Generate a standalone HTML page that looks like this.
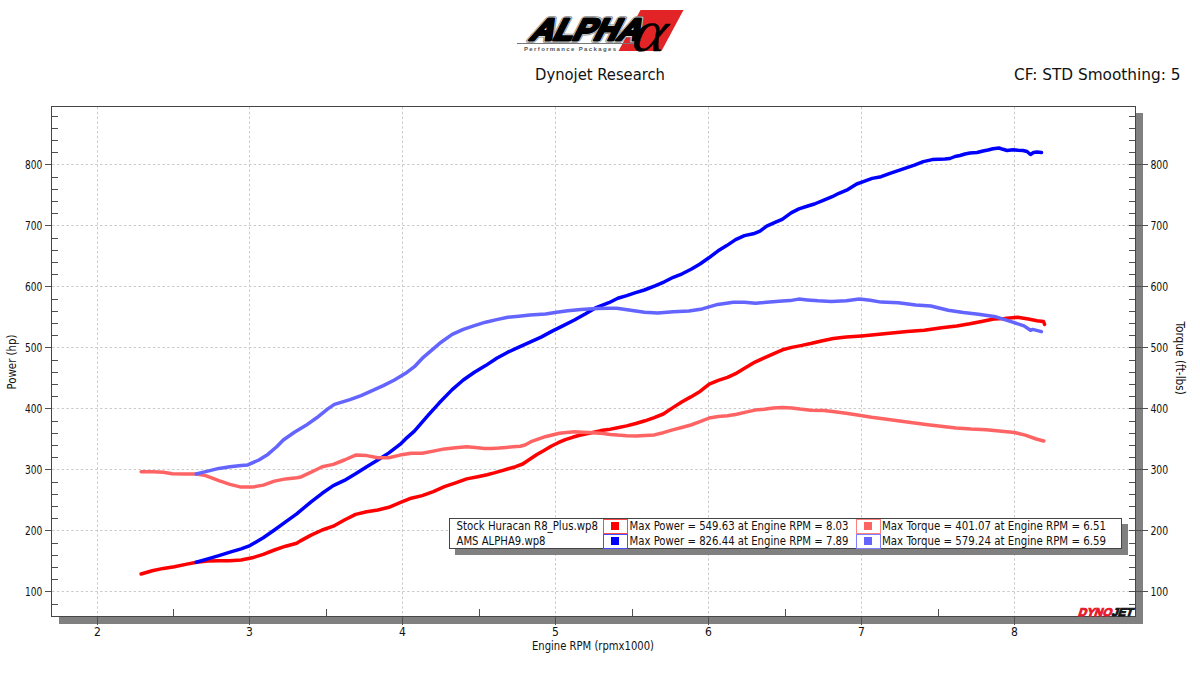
<!DOCTYPE html><html><head><meta charset="utf-8"><style>html,body{margin:0;padding:0;background:#fff;width:1200px;height:675px;overflow:hidden}svg{display:block}</style></head><body>
<svg width="1200" height="675" viewBox="0 0 1200 675">
<rect width="1200" height="675" fill="#fff"/>
<g id="logo">
<polygon points="640.5,10 683.5,10 661.5,51 618.5,51" fill="#e32427"/>
<line x1="517" y1="43.5" x2="640" y2="43.5" stroke="#777" stroke-width="1"/>
<text x="0" y="0" transform="translate(528.5,39.6) skewX(-27)" font-family="Liberation Sans,sans-serif" font-weight="bold" font-size="30.5" textLength="110" lengthAdjust="spacingAndGlyphs" fill="#000" stroke="#8c8c8c" stroke-width="5.6" stroke-linejoin="round">ALPHA</text>
<text x="0" y="0" transform="translate(528.5,39.6) skewX(-27)" font-family="Liberation Sans,sans-serif" font-weight="bold" font-size="30.5" textLength="110" lengthAdjust="spacingAndGlyphs" fill="#000" stroke="#e8e8e8" stroke-width="4" stroke-linejoin="round">ALPHA</text>
<text x="0" y="0" transform="translate(528.5,39.6) skewX(-27)" font-family="Liberation Sans,sans-serif" font-weight="bold" font-size="30.5" textLength="110" lengthAdjust="spacingAndGlyphs" fill="#000" stroke="#000" stroke-width="2.9" stroke-linejoin="round">ALPHA</text>
<text x="524" y="51" font-family="Liberation Sans,sans-serif" font-weight="bold" font-size="6" fill="#555" textLength="92" lengthAdjust="spacing">Performance Packages</text>
<text x="0" y="0" transform="translate(630.8,51) scale(1.06,0.98) skewX(-10)" font-family="Liberation Serif,serif" font-style="italic" font-size="60" fill="#000" stroke="#000" stroke-width="0.3">&#945;</text>
</g>
<text x="535" y="79.5" font-family="'DejaVu Sans Condensed','Liberation Sans',sans-serif" font-size="16" fill="#111" textLength="130" lengthAdjust="spacingAndGlyphs">Dynojet Research</text>
<text x="1014" y="80" font-family="'DejaVu Sans Condensed','Liberation Sans',sans-serif" font-size="16" fill="#111" textLength="166.5" lengthAdjust="spacingAndGlyphs">CF: STD Smoothing: 5</text>
<rect x="1136" y="113" width="7" height="511" fill="#808080"/>
<rect x="59" y="617" width="1084" height="7" fill="#808080"/>
<g stroke="#cbcbcb" stroke-width="1" stroke-dasharray="2.5,2.3" fill="none">
<line x1="97.5" y1="107" x2="97.5" y2="616"/>
<line x1="249.5" y1="107" x2="249.5" y2="616"/>
<line x1="402.5" y1="107" x2="402.5" y2="616"/>
<line x1="555.5" y1="107" x2="555.5" y2="616"/>
<line x1="708.5" y1="107" x2="708.5" y2="616"/>
<line x1="861.5" y1="107" x2="861.5" y2="616"/>
<line x1="1014.5" y1="107" x2="1014.5" y2="616"/>
<line x1="52" y1="591.5" x2="1135" y2="591.5"/>
<line x1="52" y1="530.5" x2="1135" y2="530.5"/>
<line x1="52" y1="469.5" x2="1135" y2="469.5"/>
<line x1="52" y1="408.5" x2="1135" y2="408.5"/>
<line x1="52" y1="347.5" x2="1135" y2="347.5"/>
<line x1="52" y1="286.5" x2="1135" y2="286.5"/>
<line x1="52" y1="225.5" x2="1135" y2="225.5"/>
<line x1="52" y1="164.5" x2="1135" y2="164.5"/>
</g>
<g stroke="#505050" stroke-width="1" shape-rendering="crispEdges">
<line x1="52" y1="604.5" x2="58" y2="604.5"/>
<line x1="1129" y1="604.5" x2="1135" y2="604.5"/>
<line x1="45" y1="591.5" x2="51" y2="591.5"/>
<line x1="1129" y1="591.5" x2="1148" y2="591.5"/>
<line x1="52" y1="579.5" x2="58" y2="579.5"/>
<line x1="1129" y1="579.5" x2="1135" y2="579.5"/>
<line x1="52" y1="567.5" x2="58" y2="567.5"/>
<line x1="1129" y1="567.5" x2="1135" y2="567.5"/>
<line x1="52" y1="555.5" x2="58" y2="555.5"/>
<line x1="1129" y1="555.5" x2="1135" y2="555.5"/>
<line x1="52" y1="543.5" x2="58" y2="543.5"/>
<line x1="1129" y1="543.5" x2="1135" y2="543.5"/>
<line x1="45" y1="530.5" x2="51" y2="530.5"/>
<line x1="1129" y1="530.5" x2="1148" y2="530.5"/>
<line x1="52" y1="518.5" x2="58" y2="518.5"/>
<line x1="1129" y1="518.5" x2="1135" y2="518.5"/>
<line x1="52" y1="506.5" x2="58" y2="506.5"/>
<line x1="1129" y1="506.5" x2="1135" y2="506.5"/>
<line x1="52" y1="494.5" x2="58" y2="494.5"/>
<line x1="1129" y1="494.5" x2="1135" y2="494.5"/>
<line x1="52" y1="482.5" x2="58" y2="482.5"/>
<line x1="1129" y1="482.5" x2="1135" y2="482.5"/>
<line x1="45" y1="469.5" x2="51" y2="469.5"/>
<line x1="1129" y1="469.5" x2="1148" y2="469.5"/>
<line x1="52" y1="457.5" x2="58" y2="457.5"/>
<line x1="1129" y1="457.5" x2="1135" y2="457.5"/>
<line x1="52" y1="445.5" x2="58" y2="445.5"/>
<line x1="1129" y1="445.5" x2="1135" y2="445.5"/>
<line x1="52" y1="433.5" x2="58" y2="433.5"/>
<line x1="1129" y1="433.5" x2="1135" y2="433.5"/>
<line x1="52" y1="421.5" x2="58" y2="421.5"/>
<line x1="1129" y1="421.5" x2="1135" y2="421.5"/>
<line x1="45" y1="408.5" x2="51" y2="408.5"/>
<line x1="1129" y1="408.5" x2="1148" y2="408.5"/>
<line x1="52" y1="396.5" x2="58" y2="396.5"/>
<line x1="1129" y1="396.5" x2="1135" y2="396.5"/>
<line x1="52" y1="384.5" x2="58" y2="384.5"/>
<line x1="1129" y1="384.5" x2="1135" y2="384.5"/>
<line x1="52" y1="372.5" x2="58" y2="372.5"/>
<line x1="1129" y1="372.5" x2="1135" y2="372.5"/>
<line x1="52" y1="360.5" x2="58" y2="360.5"/>
<line x1="1129" y1="360.5" x2="1135" y2="360.5"/>
<line x1="45" y1="347.5" x2="51" y2="347.5"/>
<line x1="1129" y1="347.5" x2="1148" y2="347.5"/>
<line x1="52" y1="335.5" x2="58" y2="335.5"/>
<line x1="1129" y1="335.5" x2="1135" y2="335.5"/>
<line x1="52" y1="323.5" x2="58" y2="323.5"/>
<line x1="1129" y1="323.5" x2="1135" y2="323.5"/>
<line x1="52" y1="311.5" x2="58" y2="311.5"/>
<line x1="1129" y1="311.5" x2="1135" y2="311.5"/>
<line x1="52" y1="299.5" x2="58" y2="299.5"/>
<line x1="1129" y1="299.5" x2="1135" y2="299.5"/>
<line x1="45" y1="286.5" x2="51" y2="286.5"/>
<line x1="1129" y1="286.5" x2="1148" y2="286.5"/>
<line x1="52" y1="274.5" x2="58" y2="274.5"/>
<line x1="1129" y1="274.5" x2="1135" y2="274.5"/>
<line x1="52" y1="262.5" x2="58" y2="262.5"/>
<line x1="1129" y1="262.5" x2="1135" y2="262.5"/>
<line x1="52" y1="250.5" x2="58" y2="250.5"/>
<line x1="1129" y1="250.5" x2="1135" y2="250.5"/>
<line x1="52" y1="238.5" x2="58" y2="238.5"/>
<line x1="1129" y1="238.5" x2="1135" y2="238.5"/>
<line x1="45" y1="225.5" x2="51" y2="225.5"/>
<line x1="1129" y1="225.5" x2="1148" y2="225.5"/>
<line x1="52" y1="213.5" x2="58" y2="213.5"/>
<line x1="1129" y1="213.5" x2="1135" y2="213.5"/>
<line x1="52" y1="201.5" x2="58" y2="201.5"/>
<line x1="1129" y1="201.5" x2="1135" y2="201.5"/>
<line x1="52" y1="189.5" x2="58" y2="189.5"/>
<line x1="1129" y1="189.5" x2="1135" y2="189.5"/>
<line x1="52" y1="177.5" x2="58" y2="177.5"/>
<line x1="1129" y1="177.5" x2="1135" y2="177.5"/>
<line x1="45" y1="164.5" x2="51" y2="164.5"/>
<line x1="1129" y1="164.5" x2="1148" y2="164.5"/>
<line x1="52" y1="152.5" x2="58" y2="152.5"/>
<line x1="1129" y1="152.5" x2="1135" y2="152.5"/>
<line x1="52" y1="140.5" x2="58" y2="140.5"/>
<line x1="1129" y1="140.5" x2="1135" y2="140.5"/>
<line x1="52" y1="128.5" x2="58" y2="128.5"/>
<line x1="1129" y1="128.5" x2="1135" y2="128.5"/>
<line x1="52" y1="116.5" x2="58" y2="116.5"/>
<line x1="1129" y1="116.5" x2="1135" y2="116.5"/>
<line x1="97.5" y1="616" x2="97.5" y2="625"/>
<line x1="249.5" y1="616" x2="249.5" y2="625"/>
<line x1="402.5" y1="616" x2="402.5" y2="625"/>
<line x1="555.5" y1="616" x2="555.5" y2="625"/>
<line x1="708.5" y1="616" x2="708.5" y2="625"/>
<line x1="861.5" y1="616" x2="861.5" y2="625"/>
<line x1="1014.5" y1="616" x2="1014.5" y2="625"/>
<line x1="173.5" y1="609" x2="173.5" y2="616"/>
<line x1="326.5" y1="609" x2="326.5" y2="616"/>
<line x1="479.5" y1="609" x2="479.5" y2="616"/>
<line x1="632.5" y1="609" x2="632.5" y2="616"/>
<line x1="785.5" y1="609" x2="785.5" y2="616"/>
<line x1="938.5" y1="609" x2="938.5" y2="616"/>
<line x1="1090.5" y1="609" x2="1090.5" y2="616"/>
</g>
<rect x="51.5" y="106.5" width="1084" height="510" fill="none" stroke="#454545" stroke-width="1" shape-rendering="crispEdges"/>
<g fill="none" stroke-width="3.5" stroke-linejoin="round" stroke-linecap="round">
<polyline points="141.1,574.0 152.2,570.7 163.3,568.4 174.4,566.7 185.6,564.4 196.7,562.2 207.8,561.1 218.9,560.7 230.0,560.7 241.1,560.0 252.2,557.8 263.3,554.4 274.4,550.0 285.6,546.2 296.7,543.3 300.0,541.1 311.1,535.1 322.2,530.0 333.3,526.2 344.4,520.0 355.6,514.4 366.7,511.8 377.8,510.0 388.9,507.3 400.0,502.7 411.1,498.2 422.2,495.6 433.3,491.6 444.4,486.7 455.6,482.9 466.7,478.9 477.8,476.7 487.1,474.7 494.2,472.9 501.3,470.9 508.4,468.8 515.6,466.7 522.7,464.0 529.8,459.3 536.9,454.5 544.0,450.4 551.1,446.2 558.2,442.7 565.3,439.7 572.5,437.3 579.6,435.3 586.7,433.8 593.8,432.2 600.9,430.6 608.3,429.6 617.5,427.7 626.7,425.9 635.8,423.5 645.0,420.8 654.2,417.6 663.3,414.0 672.5,407.9 681.7,402.0 690.8,396.9 700.0,391.4 709.2,384.1 718.3,380.4 727.5,377.3 736.7,373.1 745.8,367.6 755.0,362.1 764.2,357.9 773.3,353.8 782.5,349.8 791.7,347.4 800.8,345.6 811.7,343.3 822.5,340.7 833.3,338.5 846.3,337.0 861.5,335.9 876.7,334.6 891.8,333.1 907.0,331.6 924.3,330.3 941.7,327.7 956.8,325.9 969.8,323.8 982.8,321.2 993.7,319.0 1004.5,318.4 1017.5,317.3 1028.3,319.0 1037.0,320.7 1043.5,321.6 1044.6,324.4" stroke="#ff0000"/>
<polyline points="196.2,562.2 207.8,558.9 218.9,555.6 230.0,552.2 241.1,548.9 250.0,545.6 263.3,537.8 274.4,530.0 285.6,521.8 296.7,513.8 300.0,511.1 311.1,501.8 322.2,493.3 333.3,485.6 344.4,480.4 355.6,473.8 366.7,466.7 377.8,460.0 388.9,452.9 400.0,444.4 405.6,438.9 414.4,431.1 427.8,415.6 438.9,403.3 452.2,389.6 463.3,380.0 474.4,372.2 485.6,365.6 496.7,358.2 507.8,352.2 518.9,347.1 530.0,342.2 541.1,337.1 552.2,331.1 563.3,325.6 574.4,320.0 585.6,313.8 596.7,307.3 608.9,302.7 617.8,298.2 626.7,295.6 635.6,292.7 644.4,290.0 655.6,285.6 664.4,281.8 673.3,277.3 682.2,273.8 691.1,269.3 700.0,264.0 708.9,257.8 717.8,251.1 726.7,245.6 735.6,239.6 744.4,235.6 753.3,233.8 760.0,231.1 766.7,226.2 775.6,222.2 782.2,219.3 791.1,212.9 798.9,208.9 807.8,206.0 814.4,204.0 823.3,200.4 832.2,196.7 838.9,193.3 847.8,189.6 856.7,184.0 863.3,181.6 872.2,178.4 881.1,176.7 890.0,173.3 901.1,169.6 914.4,165.1 923.3,161.6 932.2,159.6 945.0,159.0 950.0,158.5 955.0,156.5 960.0,155.5 965.0,154.0 970.0,153.0 977.0,152.5 983.0,151.0 988.0,150.0 993.0,148.7 999.0,148.0 1003.0,149.3 1007.0,150.5 1013.0,149.8 1018.0,150.3 1023.0,150.5 1027.0,151.5 1030.5,154.5 1033.5,152.5 1037.0,152.0 1041.5,152.5" stroke="#0000ff"/>
<polyline points="141.1,471.8 152.2,471.8 163.3,472.2 172.2,473.8 185.6,474.0 196.7,474.0 205.6,475.6 218.9,480.7 230.0,484.4 241.1,487.1 252.2,487.1 263.3,485.1 274.4,481.1 285.6,478.9 296.7,477.8 300.0,477.3 311.1,472.2 322.2,466.7 333.3,464.4 344.4,460.0 355.6,455.1 366.7,455.6 377.8,457.8 388.9,457.8 400.0,455.1 411.1,453.3 422.2,453.3 433.3,451.1 444.4,448.9 455.6,447.8 466.7,446.7 477.8,447.8 484.7,448.4 491.9,448.4 499.0,448.0 506.1,447.4 513.2,446.8 520.3,446.2 525.0,445.0 531.0,441.7 538.1,439.1 545.2,436.7 552.3,435.0 559.4,433.2 566.5,432.4 574.8,431.8 581.9,432.2 589.1,432.6 596.2,433.0 603.3,433.5 610.4,434.4 617.5,435.1 626.7,435.8 635.8,436.0 645.0,435.4 654.2,434.9 663.3,432.7 672.5,429.9 681.7,427.5 690.8,425.0 700.0,421.7 709.2,418.0 718.3,416.5 727.5,415.8 736.7,414.3 745.8,412.1 755.0,410.1 764.2,409.2 773.3,407.9 782.5,407.6 791.7,407.9 800.0,409.1 810.8,410.2 823.8,410.6 834.7,411.7 847.7,413.4 860.7,415.6 871.5,417.3 886.7,419.3 899.7,421.0 912.7,422.7 927.8,424.7 943.0,426.4 956.0,427.9 971.2,429.0 986.3,429.7 999.3,431.0 1014.5,432.5 1025.3,435.1 1036.2,439.0 1043.8,441.0" stroke="#ff6464"/>
<polyline points="196.2,474.0 207.8,471.1 218.9,468.4 230.0,466.7 241.1,465.6 247.8,464.9 258.9,460.0 267.8,454.4 276.7,446.7 283.3,440.0 294.4,432.2 305.6,425.6 316.7,417.8 327.8,408.9 334.4,404.4 350.0,399.6 361.1,395.6 372.2,390.7 383.3,385.6 394.4,380.0 405.6,373.3 414.4,366.7 423.3,357.3 434.4,347.8 441.1,342.2 452.2,334.4 463.3,329.3 474.4,325.6 485.6,322.2 496.7,319.6 507.8,317.3 518.9,316.2 530.0,315.1 545.6,314.0 556.7,312.2 567.8,310.7 581.1,309.6 596.7,308.4 607.8,308.2 616.7,308.2 628.9,310.0 644.4,312.2 657.8,312.9 673.3,311.8 688.9,311.1 702.2,308.9 717.8,304.4 733.3,302.2 744.4,302.2 755.6,303.3 766.7,302.2 782.2,301.1 790.0,300.6 798.7,299.1 807.3,299.9 818.2,300.8 831.2,301.5 846.3,300.8 859.3,299.1 870.2,300.2 881.0,302.1 898.3,302.8 915.7,304.9 930.8,306.0 948.2,310.3 963.4,312.5 978.5,314.2 995.9,316.8 1011.0,321.6 1024.0,325.9 1030.5,330.3 1032.7,329.4 1041.4,331.6" stroke="#6464ff"/>
</g>
<g font-family="'DejaVu Sans Condensed','Liberation Sans',sans-serif" font-size="12" fill="#111">
<text x="24.9" y="595.9" font-size="12" textLength="17.3" lengthAdjust="spacingAndGlyphs">100</text>
<text x="1150.4" y="595.9" font-size="12" textLength="17.8" lengthAdjust="spacingAndGlyphs">100</text>
<text x="24.9" y="534.9" font-size="12" textLength="17.3" lengthAdjust="spacingAndGlyphs">200</text>
<text x="1150.4" y="534.9" font-size="12" textLength="17.8" lengthAdjust="spacingAndGlyphs">200</text>
<text x="24.9" y="473.9" font-size="12" textLength="17.3" lengthAdjust="spacingAndGlyphs">300</text>
<text x="1150.4" y="473.9" font-size="12" textLength="17.8" lengthAdjust="spacingAndGlyphs">300</text>
<text x="24.9" y="412.9" font-size="12" textLength="17.3" lengthAdjust="spacingAndGlyphs">400</text>
<text x="1150.4" y="412.9" font-size="12" textLength="17.8" lengthAdjust="spacingAndGlyphs">400</text>
<text x="24.9" y="351.9" font-size="12" textLength="17.3" lengthAdjust="spacingAndGlyphs">500</text>
<text x="1150.4" y="351.9" font-size="12" textLength="17.8" lengthAdjust="spacingAndGlyphs">500</text>
<text x="24.9" y="290.9" font-size="12" textLength="17.3" lengthAdjust="spacingAndGlyphs">600</text>
<text x="1150.4" y="290.9" font-size="12" textLength="17.8" lengthAdjust="spacingAndGlyphs">600</text>
<text x="24.9" y="229.8" font-size="12" textLength="17.3" lengthAdjust="spacingAndGlyphs">700</text>
<text x="1150.4" y="229.8" font-size="12" textLength="17.8" lengthAdjust="spacingAndGlyphs">700</text>
<text x="24.9" y="168.8" font-size="12" textLength="17.3" lengthAdjust="spacingAndGlyphs">800</text>
<text x="1150.4" y="168.8" font-size="12" textLength="17.8" lengthAdjust="spacingAndGlyphs">800</text>
<text x="97.5" y="635.6" font-size="12" text-anchor="middle">2</text>
<text x="249.5" y="635.6" font-size="12" text-anchor="middle">3</text>
<text x="402.5" y="635.6" font-size="12" text-anchor="middle">4</text>
<text x="555.5" y="635.6" font-size="12" text-anchor="middle">5</text>
<text x="708.5" y="635.6" font-size="12" text-anchor="middle">6</text>
<text x="861.5" y="635.6" font-size="12" text-anchor="middle">7</text>
<text x="1014.5" y="635.6" font-size="12" text-anchor="middle">8</text>
<text x="532" y="650.3" textLength="122" lengthAdjust="spacingAndGlyphs">Engine RPM (rpmx1000)</text>
<text transform="translate(16.3,389.5) rotate(-90)" textLength="55" lengthAdjust="spacingAndGlyphs">Power (hp)</text>
<text transform="translate(1176,321.5) rotate(90)" textLength="73.5" lengthAdjust="spacingAndGlyphs">Torque (ft-lbs)</text>
</g>
<rect x="455" y="524" width="673" height="31" fill="#808080"/>
<rect x="449.5" y="518.5" width="672" height="30" fill="#fff" stroke="#444" stroke-width="1" shape-rendering="crispEdges"/>
<rect x="603.5" y="519.5" width="24" height="14" fill="#fff" stroke="#ff4a4a" stroke-width="1" shape-rendering="crispEdges"/>
<rect x="611" y="522" width="8" height="8" fill="#ff0000" shape-rendering="crispEdges"/>
<rect x="603.5" y="534.5" width="24" height="14" fill="#fff" stroke="#4a4aff" stroke-width="1" shape-rendering="crispEdges"/>
<rect x="611" y="537" width="8" height="8" fill="#0000ff" shape-rendering="crispEdges"/>
<rect x="856.5" y="519.5" width="24" height="14" fill="#fff" stroke="#ff8080" stroke-width="1" shape-rendering="crispEdges"/>
<rect x="864" y="522" width="8" height="8" fill="#ff6464" shape-rendering="crispEdges"/>
<rect x="856.5" y="534.5" width="24" height="14" fill="#fff" stroke="#8080ff" stroke-width="1" shape-rendering="crispEdges"/>
<rect x="864" y="537" width="8" height="8" fill="#6464ff" shape-rendering="crispEdges"/>
<g font-family="'DejaVu Sans Condensed','Liberation Sans',sans-serif" font-size="12" fill="#111">
<text x="456.5" y="530" textLength="141.5" lengthAdjust="spacingAndGlyphs">Stock Huracan R8_Plus.wp8</text>
<text x="456.5" y="544.8" textLength="89" lengthAdjust="spacingAndGlyphs">AMS ALPHA9.wp8</text>
<text x="629.5" y="530" textLength="219" lengthAdjust="spacingAndGlyphs">Max Power = 549.63 at Engine RPM = 8.03</text>
<text x="629.5" y="544.8" textLength="219" lengthAdjust="spacingAndGlyphs">Max Power = 826.44 at Engine RPM = 7.89</text>
<text x="882" y="530" textLength="224" lengthAdjust="spacingAndGlyphs">Max Torque = 401.07 at Engine RPM = 6.51</text>
<text x="882" y="544.8" textLength="224" lengthAdjust="spacingAndGlyphs">Max Torque = 579.24 at Engine RPM = 6.59</text>
</g>
<rect x="1077" y="607" width="58" height="9" fill="#fff"/>
<text x="0" y="0" transform="translate(1077.8,616) skewX(-18)" font-family="Liberation Sans,sans-serif" font-weight="bold" font-size="11.2" textLength="54.5" lengthAdjust="spacingAndGlyphs" stroke-width="1"><tspan fill="#e8192c" stroke="#e8192c">DYNO</tspan><tspan fill="#151515" stroke="#151515">JET</tspan></text>
</svg></body></html>
